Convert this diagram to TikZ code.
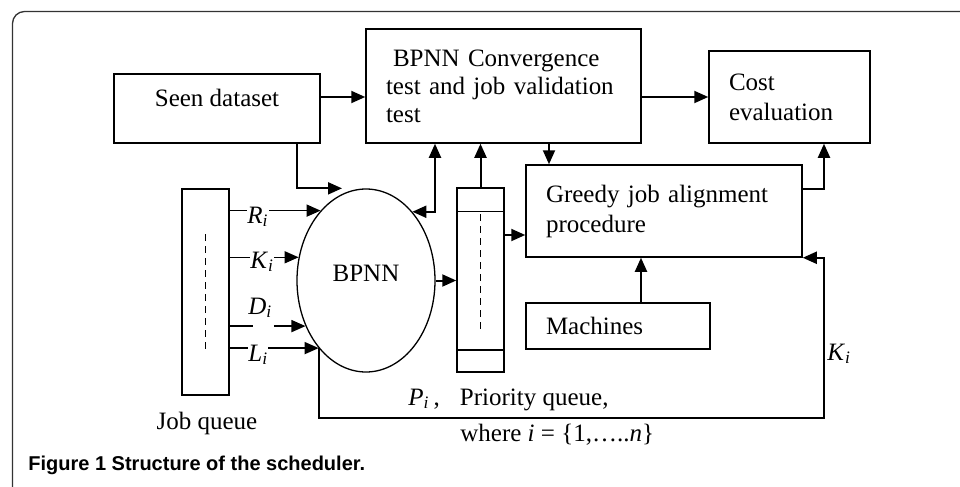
\documentclass[tikz,border=0pt]{standalone}
\usepackage{fontspec}
\setmainfont{Liberation Serif}
\newfontfamily\capfont{Liberation Sans}
\usetikzlibrary{arrows.meta}
\usetikzlibrary{shapes.geometric}
\newcommand{\vsub}[2]{\textit{#1}\textsubscript{\textit{#2}}}
\newcommand{\blkrule}{0.75pt}
\newcommand{\arrrule}{1pt}
\tikzset{
  blk/.style={draw, rectangle, line width=\blkrule, anchor=center,
    inner ysep=0pt, align=left},
  arr/.style={line width=\arrrule, -{Triangle[length=7pt,width=6pt]}},
  darr/.style={line width=\arrrule,
    {Triangle[length=7pt,width=6pt]}-{Triangle[length=7pt,width=6pt]}},
  inarr/.style={line width=\blkrule, -{Triangle[length=7pt,width=6pt]}},
  lbl/.style={fill=white, inner sep=0pt, anchor=base west},
  txt/.style={inner sep=0pt, anchor=base west},
  qdash/.style={line width=\blkrule, dash pattern=on 3.5pt off 2.5pt}
}

\begin{document}
\begin{tikzpicture}[x=0.5pt, y=-0.5pt, anchor=base,
    font=\fontsize{12.5}{15}\selectfont]
    \useasboundingbox (0,0) rectangle (960,487);
    % figure frame
    \begin{scope}
      \clip (0,0) rectangle (960,487);
      \draw[line width=0.65pt, draw=black!80, rounded corners=6pt]
        (12.5,11.5) rectangle (1000,530);
    \end{scope}

    % boxes
    \node[blk, align=center, minimum width=103pt, minimum height=34.5pt,
      text depth=11pt] (seen) at (217,108.5) {Seen dataset};
    \node[blk, minimum width=137.5pt, minimum height=57pt, inner xsep=10pt,
      text width=117.5pt, font=\fontsize{12.5}{14}\selectfont]
      (conv) at (503.5,86)
      {\hspace*{3.5pt}BPNN Convergence\\test and job validation\\test};
    \node[blk, minimum width=80.5pt, minimum height=46pt, inner xsep=10pt,
      text width=60.5pt] (cost) at (789.5,97) {Cost\\evaluation};
    \node[blk, minimum width=138pt, minimum height=46pt, inner xsep=10pt,
      text width=118pt] (greedy) at (664,211)
      {Greedy job alignment\\procedure};
    \node[blk, minimum width=92pt, minimum height=23pt, inner xsep=10pt,
      text width=72pt] (machines) at (618,326) {Machines};
    \node[blk, minimum width=23.5pt, minimum height=103pt] (jq) at (205.5,292) {};
    \node[blk, minimum width=23.5pt, minimum height=92pt] (prio) at (480.5,280) {};
    \node[ellipse, draw, line width=0.65pt, anchor=center, inner sep=0pt,
      minimum width=69pt, minimum height=91.5pt, text depth=7pt]
      (bpnn) at (366,280.5) {BPNN};

    % queue details
    \draw[line width=\blkrule] ([yshift=-12pt]prio.north west)
      -- ([yshift=-12pt]prio.north east);
    \draw[line width=\blkrule] ([yshift=11.5pt]prio.south west)
      -- ([yshift=11.5pt]prio.south east);
    \draw[qdash] ([yshift=-13.5pt]prio.north) -- ([yshift=21pt]prio.south);
    \draw[qdash] ([yshift=-23pt]jq.north) -- ([yshift=23.5pt]jq.south);

    % helper levels
    \coordinate (toprow) at (0,97);
    \coordinate (sdx) at (297,0);
    \coordinate (bpnnin) at ([xshift=-12pt]bpnn.north);
    \coordinate (dbx) at (435,0);
    \coordinate (cgx) at (549,0);
    \coordinate (pgy) at (0,235);
    \coordinate (gcy) at (0,189);
    \coordinate (mgx) at (641,0);
    \coordinate (kloop) at (824,418);

    % connectors
    \draw[arr] (seen.east |- toprow) -- (conv.west |- toprow);
    \draw[arr] (conv.east |- toprow) -- (cost.west |- toprow);
    \draw[arr] (seen.south -| sdx) |- (bpnnin);
    \draw[darr] (bpnn.56.3) -| (conv.south -| dbx);
    \draw[arr] (prio.north) -- (prio.north |- conv.south);
    \draw[arr] (conv.south -| cgx) -- (greedy.north -| cgx);
    \draw[arr] (bpnn.east) -- (prio.west |- bpnn.east);
    \draw[arr] (prio.east |- pgy) -- (greedy.west |- pgy);
    \draw[arr] (greedy.east |- gcy) -| (cost.south -| kloop);
    \draw[arr] (machines.north -| mgx) -- (greedy.south -| mgx);
    \draw[arr] (bpnn.235.4) |- (kloop) |- (greedy.south east);

    % job inputs
    \draw[inarr] (jq.east |- bpnn.123.7) -- (bpnn.123.7);
    \draw[inarr] (jq.east |- bpnn.161.4) -- (bpnn.161.4);
    \draw[inarr] (jq.east |- bpnn.217.2) -- ++(23,0) ++(21,0) -- (bpnn.217.2);
    \draw[inarr] (jq.east |- bpnn.235.4) -- (bpnn.235.4);
    \node[lbl] (rlbl) at (247,223) {\vsub{R}{i}};
    \node[lbl] (klbl) at (250,268) {\vsub{K}{i}};
    \node[lbl, fill=none] (dlbl) at (248,314) {\vsub{D}{i}};
    \node[lbl] (llbl) at (248,361) {\vsub{L}{i}};

    % texts
    \node[txt] (kfb) at (827,360) {\vsub{K}{i}};
    \node (jqlbl) at (207,429) {Job queue};
    \node[txt] (pqlbl) at (408,405)
      {\vsub{P}{i}\,,\hspace{10pt}Priority queue,};
    \node[txt] (wherelbl) at (460,441)
      {where \textit{i} = \{1,…..\textit{n}\}};
    \node[txt, font=\capfont\bfseries\fontsize{10}{12}\selectfont]
      (caption) at (28,470) {Figure 1 Structure of the scheduler.};
\end{tikzpicture}
\end{document}
